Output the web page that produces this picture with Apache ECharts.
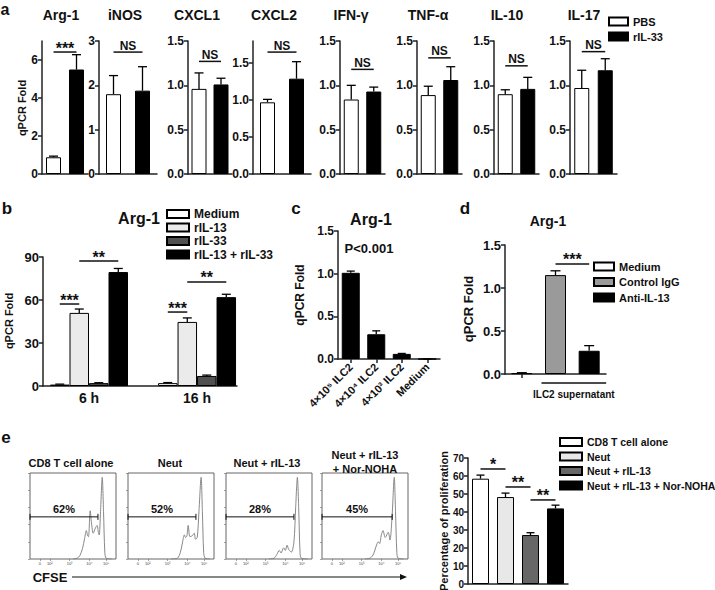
<!DOCTYPE html>
<html><head><meta charset="utf-8">
<script src="https://cdn.jsdelivr.net/npm/echarts@6/dist/echarts.min.js"></script>
<style>html,body{margin:0;padding:0;background:#fff}#c{width:715px;height:590px}</style>
</head><body><div id="c"></div>
<script>
// ---------------- data ----------------
// panel a
const aGenes = ['Arg-1','iNOS','CXCL1','CXCL2','IFN-γ','TNF-α','IL-10','IL-17'];
const aGroups = ['PBS','rIL-33'];
const aPBS     = [0.88,1.80,0.96,0.97,0.84,0.89,0.90,0.97];
const aPBSErr  = [0.94,2.22,1.14,1.01,1.00,0.99,0.95,1.17];
const aIL33    = [5.50,1.88,1.01,1.29,0.93,1.06,0.96,1.17];
const aIL33Err = [6.28,2.42,1.08,1.52,0.98,1.21,1.09,1.30];
const aYMax  = [7,3,1.5,1.8,1.5,1.5,1.5,1.5];
const aYStep = [2,1,0.5,0.5,0.5,0.5,0.5,0.5];
const aSig   = ['***','NS','NS','NS','NS','NS','NS','NS'];
const aSigY  = [6.42,2.75,1.27,1.65,1.18,1.31,1.22,1.38];
// panel b
const bTimes  = ['6 h','16 h'];
const bGroups = ['Medium','rIL-13','rIL-33','rIL-13 + rIL-33'];
const bMedium = [1.0, 2.0];   const bMediumErr = [1.3, 2.4];
const bIL13   = [51.0, 44.7]; const bIL13Err   = [53.7, 47.5];
const bIL33   = [2.0, 7.0];   const bIL33Err   = [2.3, 7.6];
const bBoth   = [79.5, 62.0]; const bBothErr   = [82.0, 64.0];
const bSig = [
  {t:0, g1:0, g2:1, y:57.2, label:'***'},
  {t:0, g1:1, g2:3, y:87.2, label:'**'},
  {t:1, g1:0, g2:1, y:51.6, label:'***'},
  {t:1, g1:1, g2:3, y:72.6, label:'**'}
];
// panel c
const cGroups = ['4×10⁵ ILC2','4×10⁴ ILC2','4×10³ ILC2','Medium'];
const cValues = [1.01, 0.29, 0.06, 0.0];
const cErr    = [1.03, 0.33, 0.065, 0.0];
// panel d
const dGroups = ['Medium','Control IgG','Anti-IL-13'];
const dValues = [0.01, 1.15, 0.27];
const dErr    = [0.015, 1.20, 0.33];
const dSig = [{g1:1, g2:2, y:1.28, label:'***'}];
// panel e
const eGroups = ['CD8 T cell alone','Neut','Neut + rIL-13','Neut + rIL-13 + Nor-NOHA'];
const eValues = [58.5, 48.3, 27.2, 42.0];
const eErr    = [60.5, 50.5, 28.5, 43.8];
const eSig = [
  {g1:0, g2:1, y:63.9, label:'*'},
  {g1:1, g2:2, y:53.9, label:'**'},
  {g1:2, g2:3, y:46.7, label:'**'}
];
const flowTitles = ['CD8 T cell alone','Neut','Neut + rIL-13','Neut + rIL-13\n+ Nor-NOHA'];
const flowPct = ['62%','52%','28%','45%'];
const flowGateEnd = [79, 79, 79, 81.6];
const flowGateY = 49;
const histTickPos  = [11.5, 23, 46, 69, 88.5];
const histTickText = ['0','10²','10³','10⁴','10⁵'];
const histCD8 = [[50,0],[55,1],[58,4],[61,12],[63.5,24],[65.5,33],[67,27],[68,26],[70,56],[71.5,42],[73.5,30],[76,36],[78,39],[79.5,31],[80.5,28],[82,55],[84,95],[85.5,55],[87,8],[88.5,1],[95,0]];
const histNeut = [[50,0],[57.5,1],[61,8],[63.5,20],[65.5,28],[67,25],[68.5,27],[70,39],[72,26],[74.7,27],[77,30],[78.5,23],[80.5,25],[82.5,55],[85,95],[86.5,55],[88,8],[89.6,1],[95,0]];
const histIL13 = [[50,0],[56,1],[59,5],[62,10],[64,7],[67,13],[69,10],[71,16],[73,11],[76,8],[79,20],[81,60],[83,95],[84.5,60],[86,10],[87.5,1],[95,0]];
const histNor = [[50,0],[56,1],[60,6],[63,15],[65.5,20],[67,18],[69,28],[71,33],[73.5,25],[77,31],[79,22],[81.5,50],[84,95],[85.5,55],[87,8],[88.5,1],[95,0]];
const yTitleQ = 'qPCR Fold';
const yTitleE = 'Percentage of proliferation';

// ---------------- chart ----------------
const FONT = '"Liberation Sans", Arial, sans-serif';
const F = s => `bold ${s}px "Liberation Sans", Arial, sans-serif`;
const chart = echarts.init(document.getElementById('c'), null, {renderer:'svg', width:715, height:590});
const grids=[], xAxes=[], yAxes=[], series=[];
const axisLine = {show:true, onZero:false, lineStyle:{color:'#222', width:1.5}};
const ticksFor = (max, step) => { const t=[]; for (let v=0; v<=max+1e-9; v+=step) t.push(+v.toFixed(3)); return t; };

function addY(gi, max, step, dec, fs) {
  const cv = ticksFor(max, step);
  yAxes.push({type:'value', gridIndex:gi, min:0, max, interval:step,
    axisLine, axisTick:{show:true, length:4, lineStyle:{color:'#222', width:1.5}, customValues:cv},
    axisLabel:{show:true, customValues:cv, formatter:v=>Number(v).toFixed(dec), fontFamily:FONT, fontWeight:'bold', fontSize:fs, color:'#111', margin:4},
    splitLine:{show:false}});
}
function bar(gi, name, data, color, w, gap) {
  return {type:'bar', name, xAxisIndex:gi, yAxisIndex:gi, data, barWidth:w, barGap:gap, z:2,
    itemStyle:{color, borderColor:'#000', borderWidth:1}, silent:true};
}
function errSeries(gi, pts, offset, cap) {
  return {type:'custom', xAxisIndex:gi, yAxisIndex:gi, data:pts, z:3, silent:true,
    encode:{x:0, y:[1,2]},
    renderItem:(p, api) => {
      const a = api.coord([api.value(0), api.value(1)]);
      const b = api.coord([api.value(0), api.value(2)]);
      const x = a[0] + offset;
      const st = {stroke:'#000', lineWidth:1.3};
      return {type:'group', children:[
        {type:'line', shape:{x1:x, y1:a[1], x2:x, y2:b[1]}, style:st},
        {type:'line', shape:{x1:x-cap, y1:b[1], x2:x+cap, y2:b[1]}, style:st}]};
    }};
}

// panel a layout
const aLeft  = [42, 99, 188, 253, 340, 417, 494, 570];
const aWidth = [46, 58, 44, 58, 45, 45, 45, 47];
for (let i=0;i<8;i++) {
  grids.push({left:aLeft[i], top:41, width:aWidth[i], height:133});
  xAxes.push({type:'category', gridIndex:i, data:aGroups, axisLine, axisTick:{show:false}, axisLabel:{show:false}});
  addY(i, aYMax[i], aYStep[i], aYStep[i]>=1?0:1, 12);
  series.push(bar(i,'a|PBS',[aPBS[i],'-'],'#fff',15,'-100%'));
  series.push(bar(i,'a|rIL-33',['-',aIL33[i]],'#000',15,'-100%'));
  series.push(errSeries(i, [[0,aPBS[i],aPBSErr[i]],[1,aIL33[i],aIL33Err[i]]], 0, 4.5));
}
// panel b (grid 8)
grids.push({left:43, top:257, width:194, height:129});
xAxes.push({type:'value', gridIndex:8, min:-0.426, max:1.37, axisLine, splitLine:{show:false},
  axisTick:{show:false},
  axisLabel:{customValues:[0,1], formatter:v=>bTimes[Math.round(v)], fontFamily:FONT, fontWeight:'bold', fontSize:14, color:'#111', margin:5}});
addY(8, 90, 30, 0, 13);
const bCols = ['#ffffff','#ebebeb','#505050','#000000'];
const bVals = [bMedium, bIL13, bIL33, bBoth], bErrs = [bMediumErr, bIL13Err, bIL33Err, bBothErr];
const BW = 19.5;
bGroups.forEach((g,k)=>{
  series.push(bar(8,'b|'+g, bVals[k].map((v,t)=>[t,v]), bCols[k], BW, 0));
});
bGroups.forEach((g,k)=>{
  series.push(errSeries(8, bVals[k].map((v,t)=>[t,v,bErrs[k][t]]), (k-1.5)*BW, 4.5));
});
// panel c (grid 9)
grids.push({left:338, top:231, width:102, height:128});
xAxes.push({type:'category', gridIndex:9, data:cGroups, axisLine,
  axisTick:{show:true, alignWithLabel:true, length:4, lineStyle:{color:'#222', width:1.5}},
  axisLabel:{rotate:45, interval:0, fontFamily:FONT, fontWeight:'bold', fontSize:11, color:'#111', margin:6}});
addY(9, 1.5, 0.5, 1, 12);
series.push(bar(9,'c|Arg-1', cValues, '#000', 18, '-100%'));
series.push(errSeries(9, cValues.map((v,i)=>[i,v,cErr[i]]), 0, 4));
// panel d (grid 10)
grids.push({left:505, top:245, width:101, height:129});
xAxes.push({type:'category', gridIndex:10, data:dGroups, axisLine,
  axisTick:{show:true, alignWithLabel:true, length:4, lineStyle:{color:'#222', width:1.5}},
  axisLabel:{show:false}});
addY(10, 1.5, 0.5, 1, 13);
const dCols = ['#ffffff','#9a9a9a','#000000'];
dGroups.forEach((g,k)=>{
  const data = dGroups.map((_,j)=> j===k ? dValues[k] : '-');
  series.push(bar(10,'d|'+g, data, dCols[k], 21, '-100%'));
});
series.push(errSeries(10, dValues.map((v,i)=>[i,v,dErr[i]]), 0, 5));
// panel e bars (grid 11)
grids.push({left:468, top:458, width:100, height:126});
xAxes.push({type:'category', gridIndex:11, data:eGroups, axisLine, axisTick:{show:false}, axisLabel:{show:false}});
addY(11, 70, 10, 0, 10);
const eCols = ['#ffffff','#e8e8e8','#676767','#000000'];
eGroups.forEach((g,k)=>{
  const data = eGroups.map((_,j)=> j===k ? eValues[k] : '-');
  series.push(bar(11,'e|'+g, data, eCols[k], 17, '-100%'));
});
series.push(errSeries(11, eValues.map((v,i)=>[i,v,eErr[i]]), 0, 4));
// histograms (grids 12-15)
const hLeft = [30, 128, 226, 322];
const hists = [histCD8, histNeut, histIL13, histNor];
for (let k=0;k<4;k++) {
  const gi = 12+k;
  grids.push({left:hLeft[k], top:473, width:86, height:86, show:true, borderColor:'#666', borderWidth:1, backgroundColor:'transparent'});
  xAxes.push({type:'value', gridIndex:gi, min:0, max:100, axisLine:{show:false, onZero:false}, splitLine:{show:false},
    axisTick:{show:true, length:2, customValues:histTickPos, lineStyle:{color:'#666', width:0.6}},
    axisLabel:{show:true, customValues:histTickPos, formatter:v=>histTickText[histTickPos.indexOf(v)] || '', fontSize:4, color:'#444', margin:2}});
  yAxes.push({type:'value', gridIndex:gi, min:0, max:100, interval:20, axisLine:{show:false, onZero:false}, splitLine:{show:false},
    axisTick:{show:true, length:2, lineStyle:{color:'#666', width:0.6}}, axisLabel:{show:false}});
  series.push({type:'line', xAxisIndex:gi, yAxisIndex:gi, data:hists[k], showSymbol:false, smooth:0.3, silent:true,
    lineStyle:{color:'#7a7a7a', width:0.9}});
}

function legend(names, left, top, fs, iw, ih, gap) {
  return {data:names, orient:'vertical', left, top, itemWidth:iw, itemHeight:ih, itemGap:gap, icon:'rect',
    selectedMode:false, padding:0, formatter:n=>n.split('|')[1],
    textStyle:{fontFamily:FONT, fontWeight:'bold', fontSize:fs, color:'#111', lineHeight:fs}};
}

chart.setOption({
  backgroundColor:'#fff', animation:false, textStyle:{fontFamily:FONT},
  grid:grids, xAxis:xAxes, yAxis:yAxes, series,
  legend:[
    legend(aGroups.map(g=>'a|'+g), 608, 16, 11, 19, 8, 4),
    legend(bGroups.map(g=>'b|'+g), 166, 208, 12, 22, 8, 1.5),
    legend(dGroups.map(g=>'d|'+g), 593, 261, 11, 20, 8, 4.5),
    legend(eGroups.map(g=>'e|'+g), 559, 436.5, 10.5, 22, 8, 3.5)
  ]
});

// ---------------- annotations ----------------
const G = [];
function T(text, x, y, size, align, va, rot) {
  G.push({type:'text', x, y, rotation:rot||0, silent:true, z:10,
    style:{text, font:F(size), fill:'#111', textAlign:align||'center', textVerticalAlign:va||'middle'}});
}
function L(x1, y1, x2, y2, w) {
  G.push({type:'line', silent:true, z:10, shape:{x1,y1,x2,y2}, style:{stroke:'#111', lineWidth:w||1.5}});
}
const P = (gi, x, y) => chart.convertToPixel({gridIndex:gi}, [x, y]);
function sig(gi, c1, o1, c2, o2, y, label) {
  const p1 = P(gi, c1, y), p2 = P(gi, c2, y);
  const x1 = p1[0]+o1, x2 = p2[0]+o2;
  L(x1, p1[1], x2, p1[1]);
  const star = label.indexOf('*') >= 0;
  T(label, (x1+x2)/2, star ? p1[1]+4 : p1[1]-0.5, star ? 16 : 12, 'center', 'bottom');
}
// y-axis titles (rotated)
const R = Math.PI/2;
T(yTitleQ, 22, 108, 11, 'center', 'middle', R);
T(yTitleQ, 9, 321, 11, 'center', 'middle', R);
T(yTitleQ, 300, 295, 12, 'center', 'middle', R);
T(yTitleQ, 468, 309, 13, 'center', 'middle', R);
T(yTitleE, 444, 521, 11, 'center', 'middle', R);
// panel letters
T('a', 5, 9, 16); T('b', 7, 208, 17); T('c', 296, 208, 17); T('d', 465, 208, 17); T('e', 6, 437, 17);
// panel a titles + significance
const aTitleX = [61, 125, 197, 274, 351, 428, 507, 584];
aGenes.forEach((g,i)=>{ T(g, aTitleX[i], 15, 14); sig(i, 0, 0, 1, 0, aSigY[i], aSig[i]); });
// panel b
T('Arg-1', 139, 218, 16);
bSig.forEach(s=> sig(8, s.t, (s.g1-1.5)*BW, s.t, (s.g2-1.5)*BW, s.y, s.label));
// panel c
T('Arg-1', 371, 219, 16);
T('P<0.001', 369, 248, 13);
// panel d
T('Arg-1', 548, 221, 14);
dSig.forEach(s=> sig(10, s.g1, 0, s.g2, 0, s.y, s.label));
{ const p1 = P(10, 1, 0), p2 = P(10, 2, 0);
  L(p1[0]-14, p1[1]+9, p2[0]+17, p1[1]+9, 1.5);
  T('ILC2 supernatant', (p1[0]-14+p2[0]+17)/2, p1[1]+20, 10); }
// panel e bars
eSig.forEach(s=> sig(11, s.g1, 0, s.g2, 0, s.y, s.label));
// flow histograms
const flowTitleX = [71, 170, 267, 365];
flowTitles.forEach((t,k)=>{
  const lines = t.split('\n');
  if (lines.length === 1) T(t, flowTitleX[k], 463, 11);
  else { T(lines[0], flowTitleX[k], 455, 11); T(lines[1], flowTitleX[k], 469, 11); }
  const a = P(12+k, 0, flowGateY), b = P(12+k, flowGateEnd[k], flowGateY);
  L(a[0], a[1], b[0], a[1], 1);
  L(a[0], a[1]-3, a[0], a[1]+3, 1);
  L(b[0], a[1]-3, b[0], a[1]+3, 1);
  T(flowPct[k], (a[0]+b[0])/2, a[1]-8, 11);
});
T('CFSE', 50, 577, 13);
L(72, 577, 402, 577, 1.2);
G.push({type:'polygon', silent:true, z:10, shape:{points:[[407,577],[400,574],[400,580]]}, style:{fill:'#111'}});

chart.setOption({graphic:{elements:G}});
</script>
</body></html>
